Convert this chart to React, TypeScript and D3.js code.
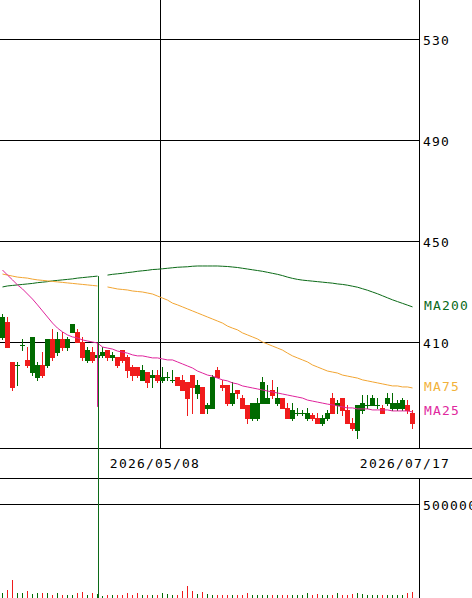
import React from "react";
import * as d3 from "d3";

// ---- data ----
const opens = [412, 418, 402, 401, 409, 403, 398, 396, 401, 401, 411, 406, 411, 408, 414, 414, 410, 403, 406, 404, 405, 407, 404, 404, 407, 404, 400, 400, 395, 398, 396, 397, 395, 396, 395, 396, 395, 394, 397, 390, 392, 384, 384, 399, 393, 393, 386, 391, 388, 385, 380, 380, 386, 386, 391, 386, 388, 384, 380, 382, 382, 380, 381, 380, 378, 380, 388, 385, 388, 383, 378, 375, 383, 385, 385, 385, 384, 386, 384, 384, 384, 385, 382];
const highs = [421, 420, 402, 402, 411, 408, 412, 402, 406, 411, 415, 414, 414, 412, 417, 415, 412, 408, 408, 407, 408, 407, 406, 404, 407, 405, 401, 400, 401, 398, 399, 399, 400, 398, 399, 396, 397, 394, 397, 395, 392, 386, 397, 400, 395, 393, 394, 391, 389, 385, 386, 388, 396, 393, 395, 392, 388, 386, 386, 384, 383, 384, 382, 382, 381, 383, 390, 387, 388, 385, 380, 385, 389, 389, 389, 388, 385, 390, 390, 387, 388, 387, 383];
const lows = [411, 408, 391, 393, 407, 400, 397, 395, 396, 400, 403, 405, 407, 407, 414, 410, 403, 402, 402, 403, 404, 403, 403, 400, 402, 396, 395, 396, 395, 392, 392, 394, 394, 395, 394, 393, 391, 381, 382, 388, 382, 382, 384, 396, 391, 385, 385, 388, 384, 378, 379, 379, 386, 386, 388, 385, 384, 380, 379, 381, 381, 379, 379, 378, 377, 379, 382, 382, 381, 378, 375, 372, 382, 384, 385, 384, 382, 385, 383, 383, 383, 382, 376];
const closes = [420, 408, 392, 401, 409, 401, 412, 401, 397, 411, 404, 411, 408, 411, 417, 410, 404, 407, 403, 405, 406, 404, 405, 401, 403, 399, 397, 397, 399, 394, 397, 395, 396, 396, 395, 393, 391, 388, 392, 393, 382, 385, 396, 396, 392, 386, 390, 390, 384, 380, 386, 386, 394, 388, 389, 388, 384, 380, 383, 382, 382, 382, 380, 378, 380, 382, 382, 386, 383, 378, 376, 385, 386, 385, 388, 385, 382, 388, 386, 386, 387, 383, 378];
const volumes = [25000, 42000, 96000, 28000, 28000, 39000, 21000, 25000, 25000, 25000, 18000, 25000, 18000, 18000, 18000, 25000, 32000, 18000, 25000, 20000, 11000, 14000, 14000, 14000, 18000, 25000, 14000, 25000, 14000, 14000, 14000, 18000, 25000, 21000, 18000, 14000, 35000, 64000, 39000, 21000, 32000, 21000, 18000, 18000, 14000, 14000, 18000, 14000, 18000, 25000, 14000, 18000, 18000, 18000, 14000, 14000, 14000, 14000, 14000, 18000, 18000, 25000, 18000, 21000, 18000, 18000, 18000, 25000, 18000, 18000, 21000, 28000, 21000, 14000, 14000, 14000, 14000, 14000, 14000, 14000, 14000, 25000, 32000];
const ma25: (number | null)[] = [438.5, 436.5, 434.6, 432.6, 431.0, 429.0, 427.0, 424.7, 422.3, 419.9, 417.5, 415.5, 414.0, 412.8, 412.0, 411.6, 410.8, 410.4, 410.0, 409.6, 408.0, 407.6, 407.2, 406.4, 406.0, 405.6, 404.9, 404.5, 404.5, 404.1, 403.7, 403.7, 403.3, 402.9, 402.9, 402.1, 401.3, 400.5, 399.7, 398.5, 397.7, 396.9, 396.5, 395.7, 395.0, 394.6, 393.8, 393.4, 392.6, 392.2, 391.8, 391.4, 391.0, 390.6, 390.2, 389.8, 389.4, 389.0, 388.6, 388.2, 387.8, 387.0, 386.6, 386.2, 385.8, 385.4, 385.1, 384.7, 384.3, 383.9, 383.9, 383.5, 383.5, 383.5, 383.1, 383.1, 383.1, 383.1, 382.7, 382.7, 382.7, 382.7, 382.3];
const ma75: (number | null)[] = [436.9, 436.5, 436.1, 435.7, 435.5, 435.3, 434.9, 434.6, 434.4, 434.2, 434.0, 433.8, 433.6, 433.4, 433.2, 433.0, 432.8, 432.6, 432.4, 432.2, null, 431.8, 431.4, 431.0, 430.8, 430.6, 430.2, 430.0, 429.8, 429.4, 429.0, 428.2, 427.4, 426.6, 425.4, 424.7, 423.9, 423.1, 422.3, 421.5, 420.7, 419.9, 419.1, 418.3, 417.5, 416.3, 415.5, 414.8, 413.6, 412.8, 412.0, 411.2, 410.0, 409.2, 408.4, 407.6, 406.8, 405.6, 404.5, 403.7, 402.9, 402.1, 400.9, 400.1, 399.3, 398.5, 398.1, 397.7, 396.9, 396.5, 396.1, 395.7, 395.0, 394.6, 394.2, 393.8, 393.4, 393.0, 392.6, 392.6, 392.2, 392.2, 391.8];
const ma200: (number | null)[] = [431.8, 432.2, 432.4, 432.6, 432.8, 433.0, 433.2, 433.5, 433.7, 433.9, 434.2, 434.4, 434.6, 434.8, 435.0, 435.3, 435.5, 435.7, 435.9, 436.1, null, 436.5, 436.8, 437.0, 437.2, 437.5, 437.7, 438.0, 438.2, 438.4, 438.7, 438.8, 439.0, 439.2, 439.4, 439.6, 439.7, 439.8, 440.0, 440.1, 440.1, 440.1, 440.1, 440.1, 440.0, 439.9, 439.7, 439.5, 439.2, 438.9, 438.6, 438.3, 438.0, 437.6, 437.2, 436.8, 436.3, 435.7, 435.2, 434.8, 434.5, 434.3, 434.1, 433.9, 433.7, 433.5, 433.3, 433.0, 432.8, 432.5, 432.1, 431.7, 431.1, 430.5, 429.8, 429.1, 428.3, 427.5, 426.7, 426.0, 425.3, 424.6, 423.9];

const priceTicks = [530, 490, 450, 410];
const volumeTicks = [500000];
const dateLabels = ["2026/05/08", "2026/07/17"];
const dateIndex = [31.5, 81.5];
// a broken data point in the source chart
const glitchIndex = 19;
const ma25DropTo = 384.3;
const volumeSpike = [340000, 426000];

const RED = "#f01c1c";
const GREEN = "#006a00";
const C25 = "#e0249c";
const C75 = "#f2a532";
const C200 = "#0b6a17";
const FONT = "'DejaVu Sans Mono', monospace";

export default function App() {
  const W = 472;
  const H = 598;
  const right = 419;
  const priceBottom = 448;
  const dateBottom = 478;
  const n = closes.length;
  const x = d3.scaleLinear().domain([0, n - 1]).range([2.5, 2.5 + 5 * (n - 1)]);
  const y = d3.scaleLinear().domain([410, 530]).range([342, 39]);
  const vy = d3.scaleLinear().domain([0, 500000]).range([H, 504]);
  const mkLine = (arr: (number | null)[]) =>
    d3
      .line<number | null>()
      .defined((d) => d != null)
      .x((_, i) => x(i))
      .y((d) => y(d as number))(arr) || "";
  const px = (v: number) => Math.round(v) + 0.5;
  const textStyle: React.CSSProperties = { fontFamily: FONT, fontSize: 13, letterSpacing: 1.2 };

  const maLabels = [
    { label: "MA200", arr: ma200, color: "#0a6a1a" },
    { label: "MA75", arr: ma75, color: "#f2b23a" },
    { label: "MA25", arr: ma25, color: "#e0289e" },
  ];

  return (
    <svg
      width={W}
      height={H}
      style={{ position: "absolute", left: 0, top: 0, background: "#fff" }}
    >
      <rect x={0} y={0} width={W} height={H} fill="#fff" />
      {/* price grid */}
      {priceTicks.map((t) => (
        <g key={t}>
          <line x1={0} x2={right} y1={px(y(t))} y2={px(y(t))} stroke="#000" strokeWidth={1} />
          <text x={423} y={Math.round(y(t)) + 6} style={textStyle} fill="#000">
            {t}
          </text>
        </g>
      ))}
      {/* vertical date grid */}
      {dateIndex.slice(0, 1).map((d, k) => (
        <line key={k} x1={px(x(d))} x2={px(x(d))} y1={0} y2={priceBottom} stroke="#000" />
      ))}
      {/* frame lines */}
      <line x1={px(right)} x2={px(right)} y1={0} y2={priceBottom} stroke="#000" />
      <line x1={px(right)} x2={px(right)} y1={dateBottom} y2={H} stroke="#000" />
      <line x1={0} x2={W} y1={px(priceBottom)} y2={px(priceBottom)} stroke="#000" />
      <line x1={0} x2={W} y1={px(dateBottom)} y2={px(dateBottom)} stroke="#000" />
      {/* date labels */}
      {dateLabels.map((l, k) => (
        <text
          key={l}
          x={x(dateIndex[k]) - 5}
          y={468}
          textAnchor="middle"
          style={textStyle}
          fill="#000"
        >
          {l}
        </text>
      ))}
      {/* volume grid */}
      {volumeTicks.map((t) => (
        <g key={t}>
          <line x1={0} x2={right} y1={px(vy(t))} y2={px(vy(t))} stroke="#000" />
          <text x={423} y={Math.round(vy(t)) + 6} style={textStyle} fill="#000">
            {t}
          </text>
        </g>
      ))}
      {/* candles */}
      <g shapeRendering="crispEdges">
        {closes.map((c, i) => {
          const o = opens[i];
          const up = c >= o;
          const col = up ? GREEN : RED;
          const top = Math.round(y(Math.max(o, c)));
          const bot = Math.round(y(Math.min(o, c)));
          const hi = Math.round(y(highs[i]));
          const lo = Math.round(y(lows[i]));
          const cx = Math.round(x(i) - 0.5);
          return (
            <g key={i}>
              <rect x={cx} y={hi} width={1} height={Math.max(1, lo - hi + 1)} fill={col} />
              <rect x={cx - 2} y={top} width={5} height={Math.max(1, bot - top + 1)} fill={col} />
            </g>
          );
        })}
      </g>
      {/* volume bars */}
      <g shapeRendering="crispEdges">
        {volumes.map((v, i) => {
          const up = closes[i] >= opens[i];
          const cx = Math.round(x(i) - 0.5);
          const top = Math.round(vy(v));
          return <rect key={i} x={cx} y={top} width={1} height={H - top} fill={up ? GREEN : RED} />;
        })}
        <rect
          x={Math.round(x(glitchIndex)) }
          y={Math.round(vy(volumeSpike[1]))}
          width={1}
          height={Math.round(vy(volumeSpike[0]) - vy(volumeSpike[1]))}
          fill={C25}
        />
      </g>
      {/* moving averages */}
      <path d={mkLine(ma200)} fill="none" stroke={C200} strokeWidth={1} />
      <path d={mkLine(ma75)} fill="none" stroke={C75} strokeWidth={1} />
      <path d={mkLine(ma25)} fill="none" stroke={C25} strokeWidth={1} />
      {/* glitch drops */}
      <line
        x1={px(x(glitchIndex) - 0.5)}
        x2={px(x(glitchIndex) - 0.5)}
        y1={y(ma25[glitchIndex] as number)}
        y2={y(ma25DropTo)}
        stroke={C25}
      />
      <line
        x1={px(x(glitchIndex) + 0.5)}
        x2={px(x(glitchIndex) + 0.5)}
        y1={y(ma200[glitchIndex] as number)}
        y2={H}
        stroke={C200}
      />
      {/* MA labels */}
      {maLabels.map((m) => {
        const last = m.arr[m.arr.length - 1] as number;
        return (
          <text key={m.label} x={424} y={y(last) + 3} style={textStyle} fill={m.color}>
            {m.label}
          </text>
        );
      })}
    </svg>
  );
}
